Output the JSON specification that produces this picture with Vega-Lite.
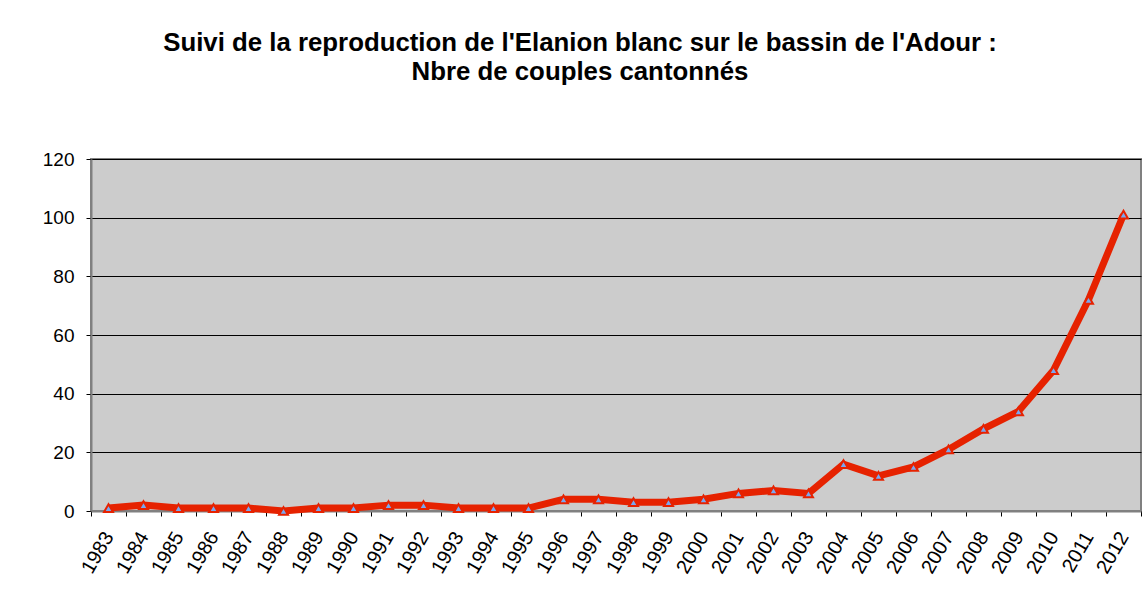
{
  "$schema": "https://vega.github.io/schema/vega-lite/v6.json",
  "autosize": {"type": "none"},
  "padding": {"left": 91, "top": 159, "right": 5, "bottom": 92},
  "width": 1050,
  "height": 352,
  "background": "white",
  "title": {
    "text": ["Suivi de la reproduction de l'Elanion blanc sur le bassin de l'Adour :", "Nbre de couples cantonnés"],
    "anchor": "middle",
    "frame": "group",
    "font": "Liberation Sans",
    "fontSize": 25.8,
    "fontWeight": "bold",
    "color": "black",
    "lineHeight": 29,
    "dx": -36,
    "offset": 64
  },
  "config": {
    "view": {"fill": "#cccccc", "stroke": "#808080", "strokeWidth": 2},
    "axis": {"labelFont": "Liberation Sans", "labelFontSize": 20, "labelColor": "black", "tickColor": "black", "tickSize": 5, "domainColor": "#808080", "domainWidth": 2}
  },
  "data": {
    "values": [
      {"year": "1983", "couples": 1},
      {"year": "1984", "couples": 2},
      {"year": "1985", "couples": 1},
      {"year": "1986", "couples": 1},
      {"year": "1987", "couples": 1},
      {"year": "1988", "couples": 0},
      {"year": "1989", "couples": 1},
      {"year": "1990", "couples": 1},
      {"year": "1991", "couples": 2},
      {"year": "1992", "couples": 2},
      {"year": "1993", "couples": 1},
      {"year": "1994", "couples": 1},
      {"year": "1995", "couples": 1},
      {"year": "1996", "couples": 4},
      {"year": "1997", "couples": 4},
      {"year": "1998", "couples": 3},
      {"year": "1999", "couples": 3},
      {"year": "2000", "couples": 4},
      {"year": "2001", "couples": 6},
      {"year": "2002", "couples": 7},
      {"year": "2003", "couples": 6},
      {"year": "2004", "couples": 16},
      {"year": "2005", "couples": 12},
      {"year": "2006", "couples": 15},
      {"year": "2007", "couples": 21},
      {"year": "2008", "couples": 28},
      {"year": "2009", "couples": 34},
      {"year": "2010", "couples": 48},
      {"year": "2011", "couples": 72},
      {"year": "2012", "couples": 101}
    ]
  },
  "encoding": {
    "x": {
      "field": "year",
      "type": "ordinal",
      "scale": {"type": "band", "paddingInner": 0, "paddingOuter": 0},
      "axis": {"title": null, "labelAngle": -60, "labelPadding": 17, "tickBand": "extent", "grid": false}
    },
    "y": {
      "field": "couples",
      "type": "quantitative",
      "scale": {"domain": [0, 120], "nice": false},
      "axis": {"title": null, "values": [0, 20, 40, 60, 80, 100, 120], "labelPadding": 12, "labelFontSize": 19, "grid": true, "gridColor": "black", "gridOpacity": 1, "gridWidth": 1.2}
    }
  },
  "layer": [
    {"mark": {"type": "line", "color": "#e62200", "strokeWidth": 7}},
    {"mark": {"type": "point", "shape": "triangle-up", "filled": true, "fill": "#7aa8f0", "stroke": "#e62200", "strokeWidth": 2, "size": 80, "opacity": 1}}
  ]
}
